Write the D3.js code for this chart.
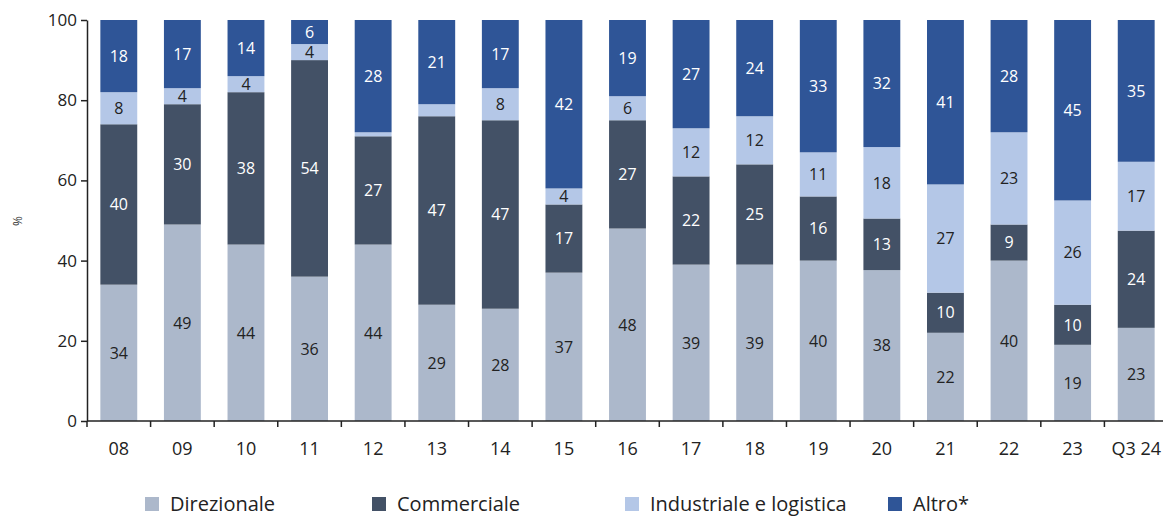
<!DOCTYPE html>
<html>
<head>
<meta charset="utf-8">
<script src="https://cdn.jsdelivr.net/npm/d3@7"></script>
<style>
  body { margin: 0; background: #fff; }
  svg { display: block; font-family: "Open Sans", "Noto Sans", sans-serif; }
</style>
</head>
<body>
<svg id="chart" width="1163" height="519"></svg>
<script>
"use strict"

var years        = ['08', '09', '10', '11', '12', '13', '14', '15', '16', '17', '18', '19', '20', '21', '22', '23', 'Q3 24'];
var direzionale  = [34, 49, 44, 36, 44, 29, 28, 37, 48, 39, 39, 40, 38, 22, 40, 19, 23];
var commerciale  = [40, 30, 38, 54, 27, 47, 47, 17, 27, 22, 25, 16, 13, 10,  9, 10, 24];
var industriale  = [ 8,  4,  4,  4,  1,  3,  8,  4,  6, 12, 12, 11, 18, 27, 23, 26, 17];
var altro        = [18, 17, 14,  6, 28, 21, 17, 42, 19, 27, 24, 33, 32, 41, 28, 45, 35];
var seriesNames  = ['Direzionale', 'Commerciale', 'Industriale e logistica', 'Altro*'];
var yTicks       = [0, 20, 40, 60, 80, 100];

var colors    = ['#acb8cb', '#435166', '#b4c7e7', '#2f5597'];
var textColor = ['#222', '#fff', '#222', '#fff'];

var rows = years.map(function(y, i) {
    return { year: y, s0: direzionale[i], s1: commerciale[i], s2: industriale[i], s3: altro[i] };
});

var stack = d3.stack()
    .keys(['s0', 's1', 's2', 's3'])
    .offset(d3.stackOffsetExpand);
var layers = stack(rows);

var svg = d3.select('#chart');

var x = d3.scaleBand()
    .domain(years)
    .range([87, 1168])
    .paddingInner(0.42)
    .paddingOuter(0.21);

var y = d3.scaleLinear()
    .domain([0, 1])
    .range([421, 20]);

// bars
var g = svg.selectAll('g.layer').data(layers).enter()
    .append('g')
    .attr('class', 'layer')
    .attr('fill', (d, i) => colors[i]);

g.selectAll('rect').data(d => d).enter()
    .append('rect')
    .attr('x', d => x(d.data.year))
    .attr('width', x.bandwidth())
    .attr('y', d => y(d[1]))
    .attr('height', d => y(d[0]) - y(d[1]));

// value labels (tiny segments stay unlabelled)
layers.forEach(function(layer, li) {
    svg.append('g').selectAll('text').data(layer.filter(d => d.data[layer.key] >= 4)).enter()
        .append('text')
        .attr('x', d => x(d.data.year) + x.bandwidth() / 2)
        .attr('y', d => (y(d[0]) + y(d[1])) / 2)
        .attr('dy', '0.36em')
        .attr('text-anchor', 'middle')
        .attr('font-size', '16px')
        .attr('fill', textColor[li])
        .text(d => d.data[layer.key]);
});

// y axis
var yAxis = svg.append('g')
    .attr('transform', 'translate(87,0)')
    .call(d3.axisLeft(y)
        .tickValues(yTicks.map(v => v / 100))
        .tickFormat(d => Math.round(d * 100))
        .tickSize(6)
        .tickSizeOuter(0));
yAxis.select('.domain').attr('stroke', '#222').attr('stroke-width', 1.5);
yAxis.selectAll('.tick line').attr('stroke', '#222').attr('stroke-width', 1.5);
yAxis.selectAll('.tick text')
    .attr('font-size', '17px')
    .attr('fill', '#222')
    .attr('x', -10)
    .attr('font-family', '"Open Sans", sans-serif');

// x axis, ticks sit between categories
var xAxisG = svg.append('g').attr('transform', 'translate(0,421)');
xAxisG.append('line')
    .attr('x1', 87).attr('x2', 1163)
    .attr('stroke', '#222').attr('stroke-width', 1.5);
var gap = x.step() - x.bandwidth();
var bounds = years.map(yr => x(yr) - gap / 2);
xAxisG.selectAll('line.tk').data(bounds).enter()
    .append('line')
    .attr('class', 'tk')
    .attr('x1', d => d).attr('x2', d => d)
    .attr('y1', 0).attr('y2', 6)
    .attr('stroke', '#222').attr('stroke-width', 1.5);
xAxisG.selectAll('text').data(years).enter()
    .append('text')
    .attr('x', d => x(d) + x.bandwidth() / 2)
    .attr('y', 34)
    .attr('text-anchor', 'middle')
    .attr('font-size', '18px')
    .attr('fill', '#222')
    .text(d => d);

// y title
svg.append('text')
    .attr('transform', 'translate(22,221) rotate(-90)')
    .attr('text-anchor', 'middle')
    .attr('font-size', '12px')
    .attr('fill', '#333')
    .text('%');

// legend
var legendX = [145, 372, 625, 888];
var legend = svg.append('g').selectAll('g').data(seriesNames).enter()
    .append('g')
    .attr('transform', (d, i) => 'translate(' + legendX[i] + ',497)');
legend.append('rect')
    .attr('width', 14).attr('height', 14)
    .attr('fill', (d, i) => colors[i]);
legend.append('text')
    .attr('x', 25)
    .attr('y', 7)
    .attr('dy', '0.36em')
    .attr('font-size', '20px')
    .attr('fill', '#222')
    .text(d => d);
</script>
</body>
</html>
